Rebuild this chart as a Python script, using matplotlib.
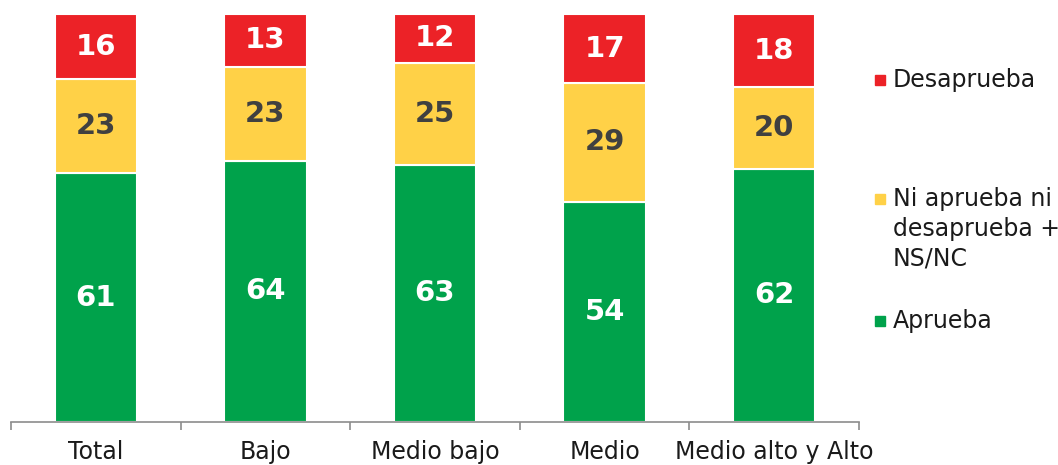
import matplotlib.pyplot as plt
from matplotlib.patches import Rectangle

categories = ["Total", "Bajo", "Medio bajo", "Medio", "Medio alto y Alto"]
aprueba = [61, 64, 63, 54, 62]
ni_ni = [23, 23, 25, 29, 20]
desaprueba = [16, 13, 12, 17, 18]

series_labels = ["Desaprueba", "Ni aprueba ni\ndesaprueba +\nNS/NC", "Aprueba"]

green = "#00A24B"
yellow = "#FFD147"
red = "#EC2227"
font = "DejaVu Sans"

plt.rcParams["font.family"] = [font]

fig = plt.figure(figsize=(10.58, 4.65), dpi=100)
ax = fig.add_axes([0.0104, 0.0925, 0.8015, 0.8775])

x = list(range(len(categories)))
width = 0.487
bottoms_yellow = aprueba
bottoms_red = [a + b for a, b in zip(aprueba, ni_ni)]

ax.bar(x, aprueba, width, color=green, edgecolor="white", linewidth=1.5, zorder=2)
ax.bar(x, ni_ni, width, bottom=bottoms_yellow, color=yellow, edgecolor="white", linewidth=1.5, zorder=2)
ax.bar(x, desaprueba, width, bottom=bottoms_red, color=red, edgecolor="white", linewidth=1.5, zorder=2)

for i in x:
    ax.text(i, aprueba[i] / 2, str(aprueba[i]), ha="center", va="center",
            fontsize=21, fontweight="bold", color="white")
    ax.text(i, bottoms_yellow[i] + ni_ni[i] / 2, str(ni_ni[i]), ha="center", va="center",
            fontsize=21, fontweight="bold", color="#404040")
    ax.text(i, bottoms_red[i] + desaprueba[i] / 2, str(desaprueba[i]), ha="center", va="center",
            fontsize=21, fontweight="bold", color="white")

ax.set_xlim(-0.5, len(categories) - 0.5)
ax.set_ylim(0, 100)
ax.set_yticks([])
for side in ["top", "right", "left"]:
    ax.spines[side].set_visible(False)
ax.spines["bottom"].set_color("#8c8c8c")
ax.spines["bottom"].set_linewidth(1.2)

ax.set_xticks(x)
ax.set_xticklabels(categories, fontsize=17, color="#1a1a1a")
ax.tick_params(axis="x", which="major", length=0, pad=13)
ax.set_xticks([i - 0.5 for i in range(len(categories) + 1)], minor=True)
ax.tick_params(axis="x", which="minor", length=6, width=1.2, color="#8c8c8c")

# legend drawn by hand, square aligned with the first text line
legend_y = [80, 199, 321]
legend_colors = [red, yellow, green]
for label, yy, c in zip(series_labels, legend_y, legend_colors):
    fy = 1 - yy / 465
    fig.patches.append(Rectangle((875 / 1058, fy - 5 / 465), 10 / 1058, 10 / 465,
                                 transform=fig.transFigure, color=c))
    fig.text(893 / 1058, fy + 12 / 465, label, ha="left", va="top", fontsize=17,
             color="#1a1a1a", linespacing=1.3)

fig.savefig("out.png", dpi=100)
